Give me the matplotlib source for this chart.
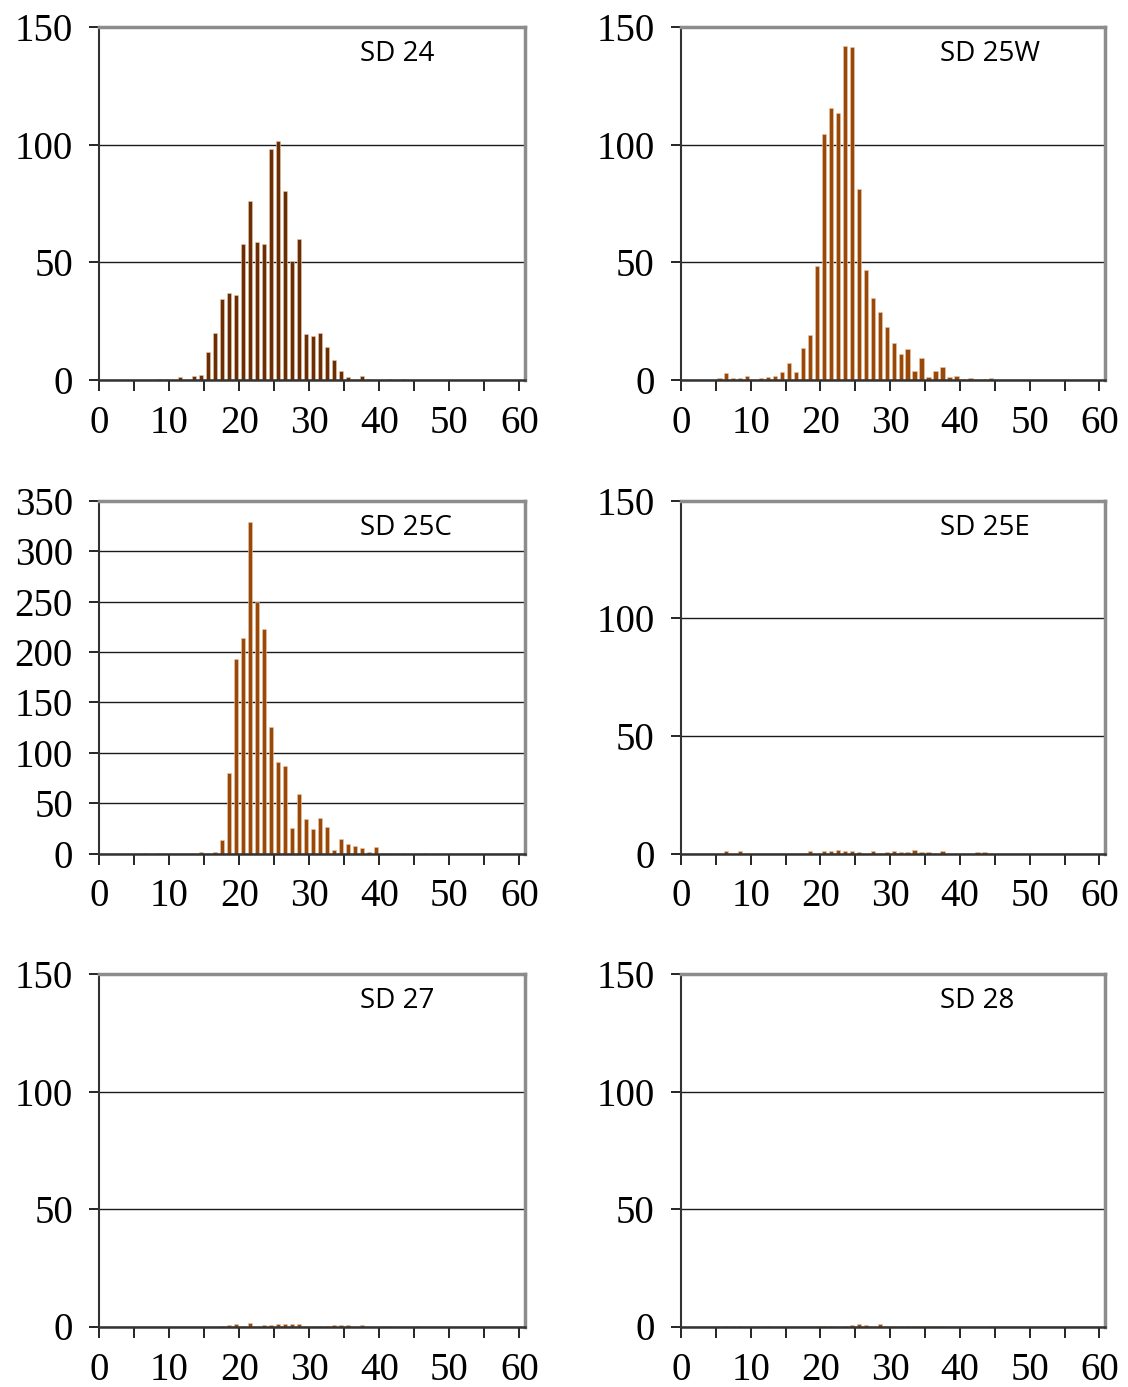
import numpy as np
import matplotlib
matplotlib.use("Agg")
import matplotlib.pyplot as plt
from matplotlib import font_manager

plt.rcParams["font.family"] = "serif"
plt.rcParams["font.serif"] = ["Liberation Serif", "Times New Roman", "DejaVu Serif"]

# length class (cm) and counts
sd24_len = [8, 9, 11, 13, 14, 15, 16, 17, 18, 19, 20, 21, 22, 23, 24, 25, 26, 27, 28,
            29, 30, 31, 32, 33, 34, 35, 37, 38, 41, 43]
sd24_n = [0.5, 0.5, 1.4, 1.6, 2, 12, 20, 34.5, 37, 36, 58, 76, 58.5, 58, 98, 101.5, 80.5,
          50.5, 60, 19.5, 18.5, 20, 14, 8.5, 3.7, 1.2, 1.8, 0.4, 0.4, 0.4]

sd25w_len = [5, 6, 7, 8, 9, 11, 12, 13, 14, 15, 16, 17, 18, 19, 20, 21, 22, 23, 24, 25,
             26, 27, 28, 29, 30, 31, 32, 33, 34, 35, 36, 37, 38, 39, 40, 41, 43, 44]
sd25w_n = [0.7, 3, 0.7, 0.7, 1.7, 0.7, 1.3, 1.7, 3.4, 7.2, 3.3, 13.6, 19, 48.5, 104.7,
           115.7, 113.5, 142, 141.3, 81, 46.8, 35, 28.8, 22.4, 15.7, 11, 13.3, 3.7, 9.4,
           1.3, 3.8, 5.5, 1.3, 1.6, 0.4, 0.7, 0.4, 0.7]

sd25c_len = [6, 8, 9, 14, 16, 17, 18, 19, 20, 21, 22, 23, 24, 25, 26, 27, 28, 29, 30, 31,
             32, 33, 34, 35, 36, 37, 38, 39, 40, 41, 42, 43, 46]
sd25c_n = [0.3, 0.3, 0.3, 1.3, 1.3, 13.3, 80, 193.5, 214, 329, 249.5, 223, 126, 91, 87,
           25.5, 59, 34.5, 24, 35.5, 26, 3.6, 14, 9, 7.6, 5.3, 1.3, 6.6, 0.3, 0.3, 0.3,
           0.3, 0.3]

sd25e_len = [6, 8, 18, 20, 21, 22, 23, 24, 25, 27, 29, 30, 31, 32, 33, 34, 35, 37, 42, 43]
sd25e_n = [1, 1, 1, 1, 1, 1.5, 1, 1, 0.7, 1, 0.7, 1, 0.7, 0.7, 1.3, 0.7, 0.7, 1, 0.7, 0.7]

sd27_len = [17, 18, 19, 20, 21, 23, 24, 25, 26, 27, 28, 29, 30, 31, 32, 33, 34, 35, 37,
            40, 41, 45]
sd27_n = [0.4, 0.6, 0.9, 0.4, 1.3, 0.6, 0.6, 0.9, 0.9, 0.9, 1, 0.4, 0.4, 0.4, 0.4, 0.7,
          0.6, 0.6, 0.7, 0.4, 0.4, 0.4]

sd28_len = [6, 7, 8, 12, 19, 20, 21, 23, 24, 25, 26, 28, 29, 30, 31, 32, 33, 34, 35, 36,
            37, 44]
sd28_n = [0.4, 0.4, 0.4, 0.4, 0.4, 0.4, 0.4, 0.4, 0.6, 0.9, 0.6, 1, 0.4, 0.4, 0.4, 0.4,
          0.4, 0.4, 0.4, 0.4, 0.4, 0.4]

panels = [
    ("SD 24", sd24_len, sd24_n, 150, "#6b2d06"),
    ("SD 25W", sd25w_len, sd25w_n, 150, "#9a480a"),
    ("SD 25C", sd25c_len, sd25c_n, 350, "#9a480a"),
    ("SD 25E", sd25e_len, sd25e_n, 150, "#9a480a"),
    ("SD 27", sd27_len, sd27_n, 150, "#9a480a"),
    ("SD 28", sd28_len, sd28_n, 150, "#9a480a"),
]

W, H = 1128, 1387
fig = plt.figure(figsize=(W / 100, H / 100), dpi=100)

col_x = [(99.3, 525), (681, 1105)]
row_y = [(27, 380), (501, 853.5), (974, 1326.5)]

label_font = font_manager.FontProperties(family=["Open Sans", "DejaVu Sans"], size=20)

for i, (name, lens, counts, ymax, color) in enumerate(panels):
    r, c = divmod(i, 2)
    x0, x1 = col_x[c]
    y0, y1 = row_y[r]
    ax = fig.add_axes([x0 / W, 1 - y1 / H, (x1 - x0) / W, (y1 - y0) / H])

    x = np.array(lens) + 0.5
    ax.bar(x, counts, width=0.62, color=color, edgecolor="#e9c9a6", linewidth=0.4,
           zorder=3)

    ax.set_xlim(0, 60.8)
    ax.set_ylim(0, ymax)
    ax.set_yticks(np.arange(0, ymax + 1, 50))
    ax.set_xticks(np.arange(0, 61, 10))
    ax.set_xticks(np.arange(0, 61, 5), minor=True)
    ax.grid(axis="y", color="#1a1a1a", linewidth=1.0, zorder=1)

    for s in ["top", "right"]:
        ax.spines[s].set_color("#8c8c8c")
        ax.spines[s].set_linewidth(2.5)
    ax.spines["left"].set_color("#333333")
    ax.spines["left"].set_linewidth(1.5)
    ax.spines["bottom"].set_color("#333333")
    ax.spines["bottom"].set_linewidth(1.8)
    ax.spines["bottom"].set_zorder(4)

    ax.tick_params(axis="y", length=7, width=1.2, pad=12, direction="out",
                   labelsize=28)
    ax.tick_params(axis="x", which="both", length=8, width=1.2, pad=10,
                   direction="out", labelsize=28)
    ax.tick_params(axis="x", which="minor", labelbottom=False)

    ax.text(0.612, 0.924, name, transform=ax.transAxes, ha="left", va="center",
            fontproperties=label_font)

fig.savefig("out.png", dpi=100)
